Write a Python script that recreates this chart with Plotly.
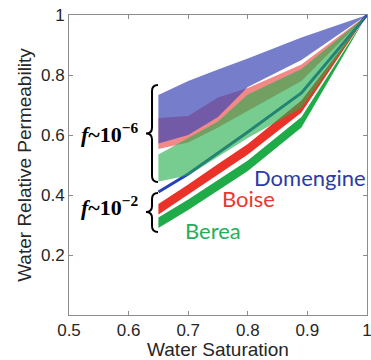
import plotly.graph_objects as go

# Water saturation sample points
sw = [0.65, 0.70, 0.75, 0.80, 0.89, 1.00]

# f ~ 1e-6 envelopes (upper / lower)
dom6_up = [0.733, 0.780, 0.818, 0.855, 0.925, 1.0]
dom6_lo = [0.572, 0.600, 0.660, 0.760, 0.850, 1.0]
boi6_up = [0.657, 0.663, 0.725, 0.757, 0.835, 1.0]
boi6_lo = [0.553, 0.575, 0.625, 0.680, 0.780, 1.0]
ber6_up = [0.535, 0.590, 0.645, 0.735, 0.820, 1.0]
ber6_lo = [0.445, 0.465, 0.528, 0.590, 0.690, 1.0]

# f ~ 1e-2 curves / narrow envelopes
dom2 = [0.410, 0.470, 0.540, 0.610, 0.740, 1.0]
boi2_up = [0.370, 0.435, 0.503, 0.570, 0.715, 1.0]
boi2_lo = [0.335, 0.400, 0.468, 0.535, 0.675, 1.0]
ber2_up = [0.325, 0.385, 0.450, 0.515, 0.660, 1.0]
ber2_lo = [0.290, 0.350, 0.415, 0.480, 0.625, 1.0]

x_ticks = [0.5, 0.6, 0.7, 0.8, 0.9, 1.0]
x_ticktext = ["0.5", "0.6", "0.7", "0.8", "0.9", "1"]
y_ticks = [0.2, 0.4, 0.6, 0.8, 1.0]
y_ticktext = ["0.2", "0.4", "0.6", "0.8", "1"]

fig = go.Figure()


def band(up, lo, color):
    fig.add_trace(go.Scatter(
        x=sw + sw[::-1], y=up + lo[::-1], mode="lines", fill="toself",
        fillcolor=color, line=dict(width=0), hoverinfo="skip", showlegend=False))


# f~1e-2 narrow bands and line
band(ber2_up, ber2_lo, "rgb(31,172,72)")
band(boi2_up, boi2_lo, "rgb(234,50,40)")
fig.add_trace(go.Scatter(x=sw, y=dom2, mode="lines",
                         line=dict(color="rgb(35,65,185)", width=3),
                         hoverinfo="skip", showlegend=False))

# f~1e-6 translucent envelopes
band(boi6_up, boi6_lo, "rgba(232,40,40,0.55)")
band(dom6_up, dom6_lo, "rgba(60,70,180,0.70)")
band(ber6_up, ber6_lo, "rgba(35,175,75,0.62)")


# braces
def brace(ytop, ymid, ybot):
    xe, xm, xt = 0.6493, 0.6393, 0.6292
    dy = 0.02
    return (f"M {xe},{ytop} Q {xm},{ytop} {xm},{ytop-dy} "
            f"L {xm},{ymid+dy} Q {xm},{ymid} {xt},{ymid} "
            f"Q {xm},{ymid} {xm},{ymid-dy} "
            f"L {xm},{ybot+dy} Q {xm},{ybot} {xe},{ybot}")


fig.add_shape(type="path", path=brace(0.767, 0.605, 0.443), xref="x", yref="y",
              line=dict(color="black", width=2))
fig.add_shape(type="path", path=brace(0.407, 0.343, 0.277), xref="x", yref="y",
              line=dict(color="black", width=2))

serif = dict(family="Liberation Serif", size=22, color="black")
fig.add_annotation(x=0.569, y=0.607, xref="x", yref="y", xanchor="center", yanchor="middle",
                   text="<b><i>f</i>~10<sup>−6</sup></b>", showarrow=False, font=serif)
fig.add_annotation(x=0.569, y=0.362, xref="x", yref="y", xanchor="center", yanchor="middle",
                   text="<b><i>f</i>~10<sup>−2</sup></b>", showarrow=False, font=serif)

lab = dict(family="Lato", size=22)
fig.add_annotation(x=0.904, y=0.46, xref="x", yref="y", text="Domengine", showarrow=False,
                   font=dict(lab, color="rgb(45,60,165)"))
fig.add_annotation(x=0.802, y=0.387, xref="x", yref="y", text="Boise", showarrow=False,
                   font=dict(lab, color="rgb(235,55,45)"))
fig.add_annotation(x=0.742, y=0.283, xref="x", yref="y", text="Berea", showarrow=False,
                   font=dict(lab, color="rgb(35,175,90)"))

txt = "#262626"
tickfont = dict(family="Liberation Sans", size=17, color=txt)
axis_common = dict(showgrid=False, zeroline=False, showline=True, mirror="ticks",
                   linecolor="#8c8c8c", linewidth=1, ticks="inside", ticklen=4,
                   tickcolor="#8c8c8c", ticklabeloverflow="allow", tickfont=tickfont)

fig.update_xaxes(range=[0.5, 1.0], tickvals=x_ticks, ticktext=x_ticktext,
                 title=dict(text="Water Saturation", standoff=0,
                            font=dict(family="Liberation Sans", size=19, color=txt)),
                 **axis_common)
fig.update_yaxes(range=[0, 1.0], tickvals=y_ticks, ticktext=y_ticktext,
                 title=dict(text="Water Relative Permeability", standoff=4,
                            font=dict(family="Liberation Sans", size=19, color=txt)),
                 **axis_common)

fig.update_layout(width=371, height=360, margin=dict(l=69, r=4, t=15, b=45, autoexpand=False),
                  plot_bgcolor="white", paper_bgcolor="white", showlegend=False,
                  hovermode=False)

# remove the default 8px page margin so the figure fills the window exactly
fig.write_html("out.html", config={"displayModeBar": False},
               post_script="document.body.style.margin='0';document.body.style.overflow='hidden';")
